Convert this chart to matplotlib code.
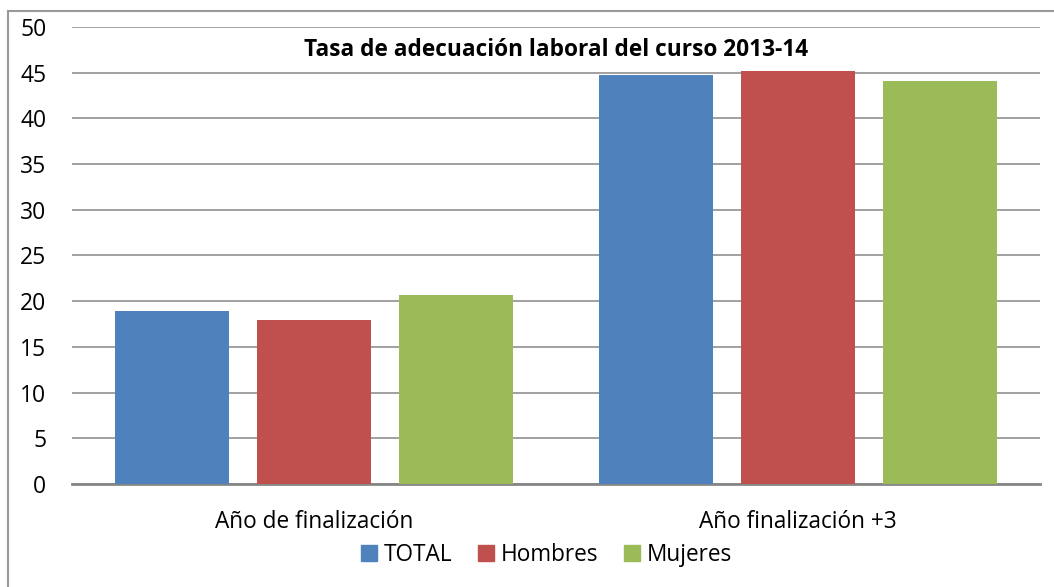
import numpy as np
import matplotlib.pyplot as plt
from matplotlib.lines import Line2D

plt.rcParams['font.family'] = ['Open Sans', 'DejaVu Sans']

categories = ['Año de finalización', 'Año finalización +3']
series = ['TOTAL', 'Hombres', 'Mujeres']
total = [18.9, 44.75]
hombres = [17.9, 45.15]
mujeres = [20.7, 44.1]
colors = ['#4F81BD', '#C0504D', '#9BBB59']

fig = plt.figure(figsize=(10.54, 5.87), dpi=100)
ax = fig.add_axes([0.0683, 0.1755, 0.9184, 0.7785])

x = np.arange(len(categories))
step = 0.293
width = 0.236
for i, (name, vals) in enumerate(zip(series, [total, hombres, mujeres])):
    ax.bar(x + (i - 1) * step, vals, width, color=colors[i], label=name, zorder=3)

ax.set_xlim(-0.5, 1.5)
ax.set_ylim(0, 50)
ax.set_yticks(range(0, 51, 5))
ax.set_xticks(x)
ax.set_xticklabels(categories, fontsize=16.3)
ax.tick_params(axis='y', length=0, pad=18.5, labelsize=16.5)
ax.tick_params(axis='x', length=0, pad=18.5)
ax.grid(axis='y', color='#868686', linewidth=1.1, zorder=0)
for s in ['left', 'right', 'top']:
    ax.spines[s].set_visible(False)
ax.spines['bottom'].set_color('#868686')
ax.spines['bottom'].set_linewidth(2)

ax.set_title('Tasa de adecuación laboral del curso 2013-14', fontsize=16.3,
             fontweight='bold', y=0.918)

handles = [Line2D([], [], marker='s', linestyle='none', markersize=11.5,
                  markerfacecolor=c, markeredgecolor=c) for c in colors]
fig.legend(handles, series, loc='center', bbox_to_anchor=(0.516, 0.054),
           ncol=3, frameon=False, fontsize=16.3, handletextpad=0.05,
           columnspacing=0.9, handlelength=1.2)

# outer border (left and top visible)
fig.add_artist(Line2D([0.0076, 0.0076], [0, 0.981], color='#999999', lw=1.5,
                      transform=fig.transFigure))
fig.add_artist(Line2D([0.0076, 1], [0.981, 0.981], color='#999999', lw=1.5,
                      transform=fig.transFigure))

fig.savefig('out.png', dpi=100)
